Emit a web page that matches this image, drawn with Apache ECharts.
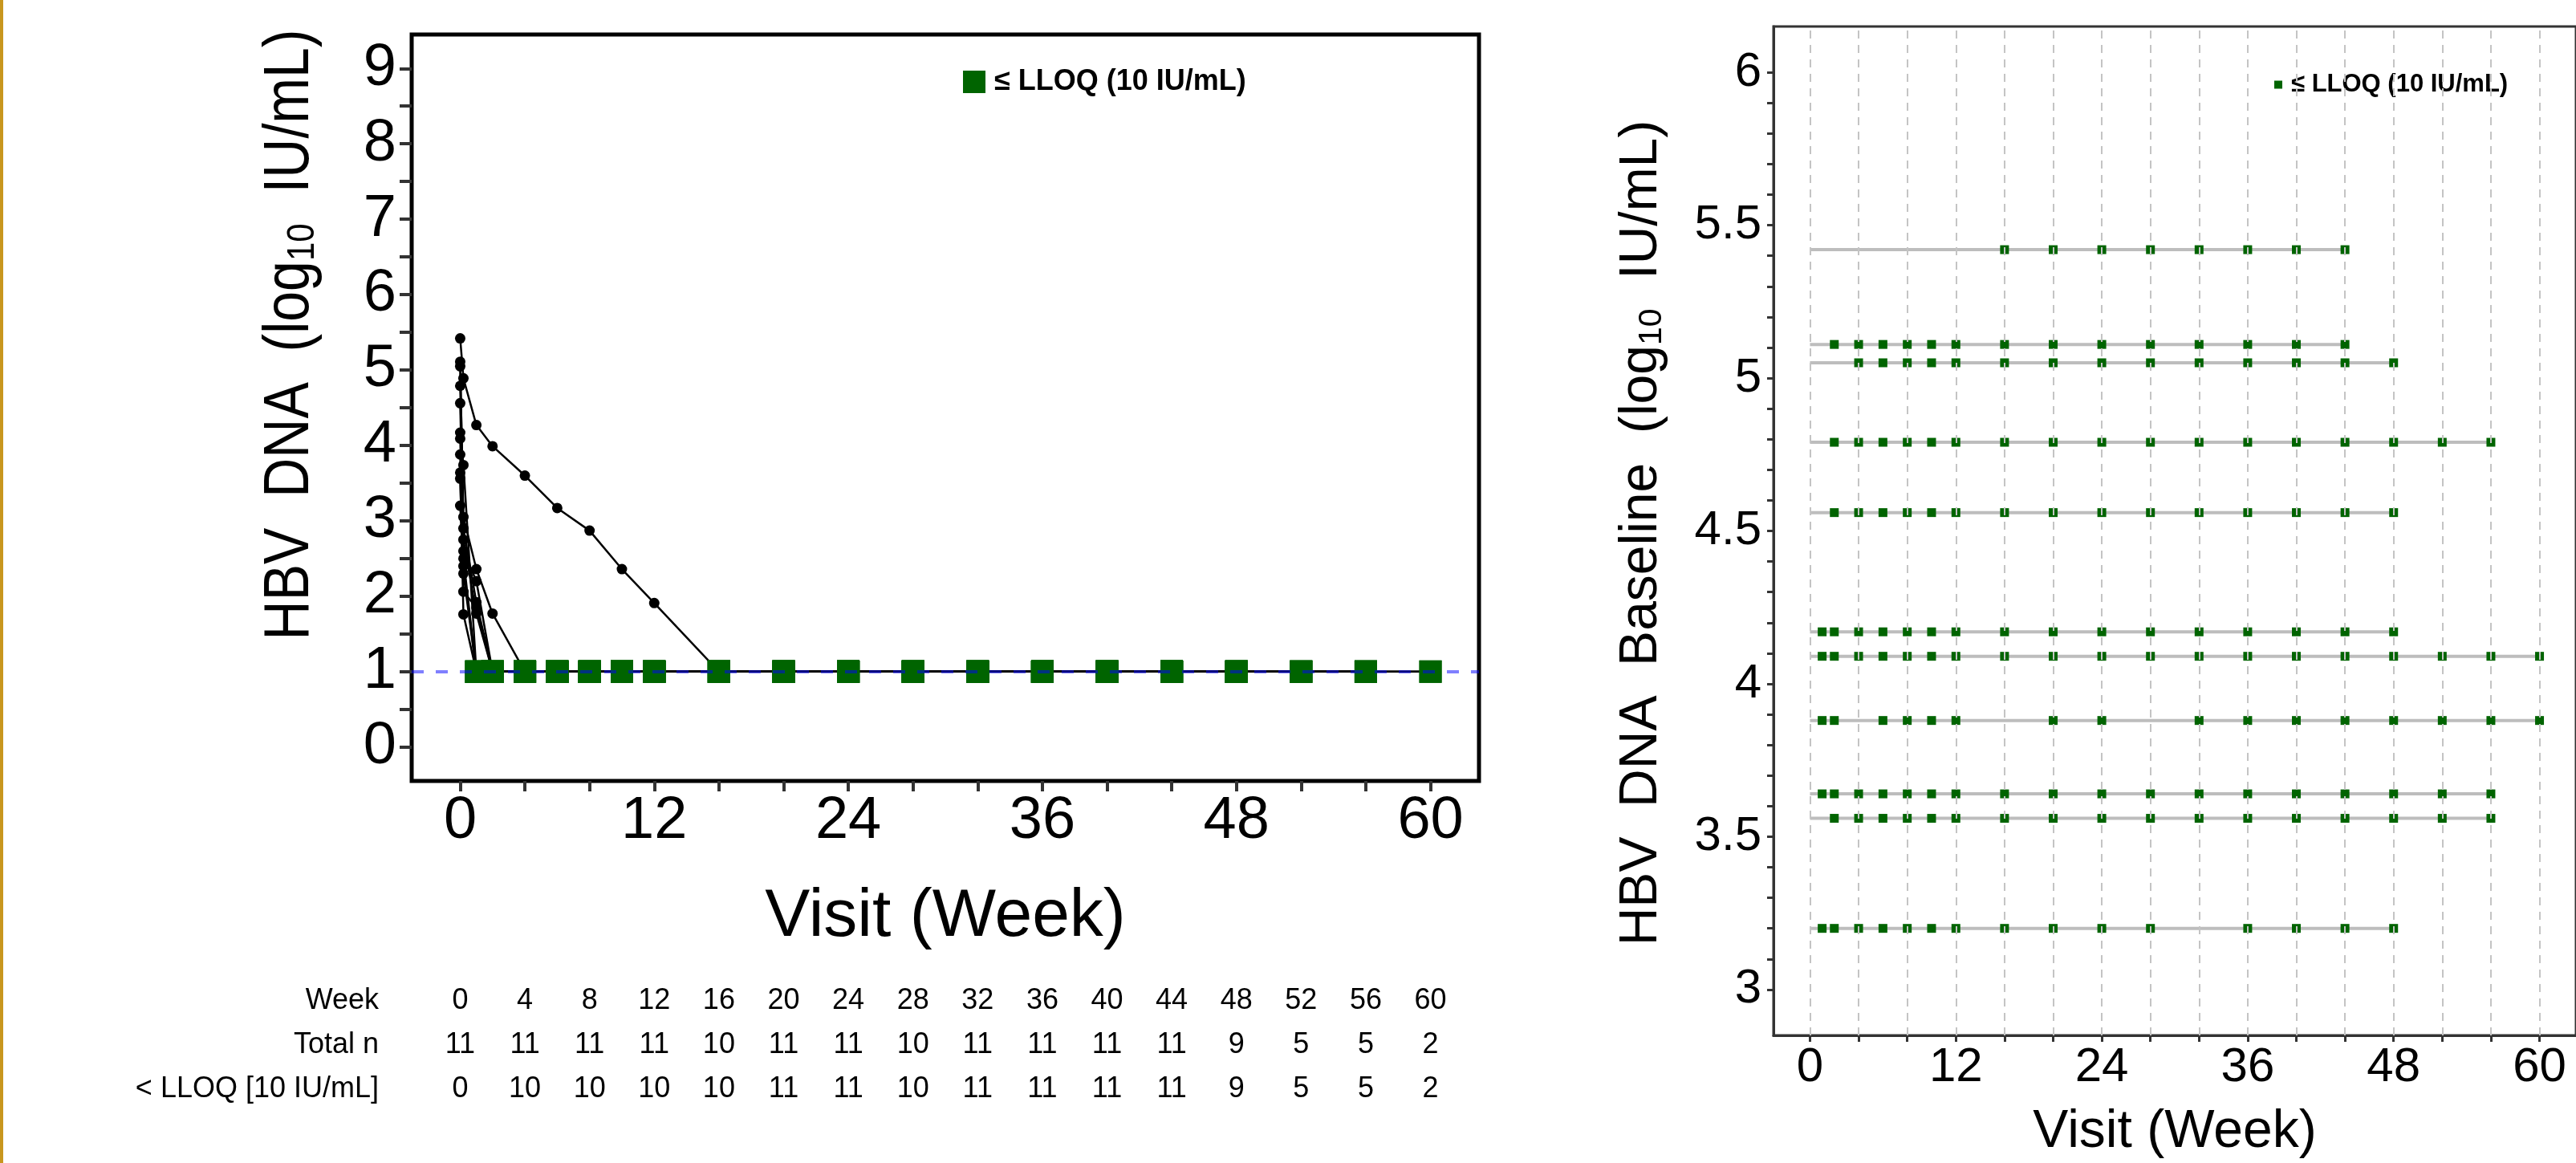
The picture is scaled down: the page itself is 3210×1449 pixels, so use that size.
<!DOCTYPE html>
<html>
<head>
<meta charset="utf-8">
<title>HBV DNA by visit</title>
<script src="https://cdn.jsdelivr.net/npm/echarts@6/dist/echarts.min.js"></script>
<style>
  html, body { margin: 0; padding: 0; background: #fff; }
  #chart { width: 3210px; height: 1449px; }
</style>
</head>
<body>
<div id="chart"></div>
<script>
// log10 of the lower limit of quantification (10 IU/mL)
const LLOQ = 1;
const L = LLOQ;
const LEG = '\u2264 LLOQ (10 IU/mL)';
const FONT = "'Liberation Sans', Arial, sans-serif";

// visit weeks (0.2 = early on-treatment draw)
const visitWeeks = [0, 0.2, 1, 2, 4, 6, 8, 10, 12, 16, 20, 24, 28, 32, 36, 40, 44, 48, 52, 56, 60];

// HBV DNA (log10 IU/mL) per subject at each visit, L = <= LLOQ, null = no visit
const subj01 = [5.42, 4.89, 4.27, 3.99, 3.60, 3.17, 2.87, 2.36, 1.91, L, L, L, L, L, L, L, L, null, null, null, null];
const subj02 = [5.11, 2.90, 1.92, L, L, L, L, L, L, L, L, L, L, L, L, L, L, null, null, null, null];
const subj03 = [5.05, 3.05, 2.36, 1.77, L, L, L, L, L, L, L, L, L, L, L, L, L, L, null, null, null];
const subj04 = [4.79, 2.75, 1.77, L, L, L, L, L, L, L, L, L, L, L, L, L, L, L, L, L, null];
const subj05 = [4.56, 2.60, 2.20, L, L, L, L, L, L, L, L, L, L, L, L, L, L, L, null, null, null];
const subj06 = [4.17, 3.74, L, L, L, L, L, L, L, L, L, L, L, L, L, L, L, L, null, null, null];
const subj07 = [4.09, 2.50, L, L, L, L, L, L, L, L, L, L, L, L, L, L, L, L, L, L, L];
const subj08 = [3.88, 2.30, L, L, null, L, L, L, L, null, L, L, null, L, L, L, L, L, L, L, L];
const subj09 = [3.64, 1.76, L, L, L, L, L, L, L, L, L, L, L, L, L, L, L, L, L, L, null];
const subj10 = [3.56, 2.06, 1.85, L, L, L, L, L, L, L, L, L, L, L, L, L, L, L, L, L, null];
const subj11 = [3.20, 2.40, L, L, L, L, L, L, L, L, L, L, L, null, L, L, L, L, null, null, null];
const subjects = [subj01, subj02, subj03, subj04, subj05, subj06, subj07, subj08, subj09, subj10, subj11];

// summary table under the left panel
const tableWeeks = [0, 4, 8, 12, 16, 20, 24, 28, 32, 36, 40, 44, 48, 52, 56, 60];
const totalN = [11, 11, 11, 11, 10, 11, 11, 10, 11, 11, 11, 11, 9, 5, 5, 2];
const belowLloqN = [0, 10, 10, 10, 10, 11, 11, 10, 11, 11, 11, 11, 9, 5, 5, 2];
const rowLabels = ['Week', 'Total n', '< LLOQ [10 IU/mL]'];

// axis ticks / labels
const leftXLabels = [0, 12, 24, 36, 48, 60];
const leftYLabels = [0, 1, 2, 3, 4, 5, 6, 7, 8, 9];
const leftYTicks = [0, 0.5, 1, 1.5, 2, 2.5, 3, 3.5, 4, 4.5, 5, 5.5, 6, 6.5, 7, 7.5, 8, 8.5, 9];
const rightYLabels = [3, 3.5, 4, 4.5, 5, 5.5, 6];
const rightYTicks = [3, 3.1, 3.2, 3.3, 3.4, 3.5, 3.6, 3.7, 3.8, 3.9, 4, 4.1, 4.2, 4.3, 4.4, 4.5,
  4.6, 4.7, 4.8, 4.9, 5, 5.1, 5.2, 5.3, 5.4, 5.5, 5.6, 5.7, 5.8, 5.9, 6];

let chart = echarts.init(document.getElementById('chart'));

let series = [];
let blackDots = [];
let greenLeft = [];
let greenRight = [];

subjects.forEach((s) => {
  let pts = [];
  visitWeeks.forEach((w, j) => {
    if (s[j] != null) pts.push([w, s[j]]);
  });
  // left panel: trajectory
  series.push({
    type: 'line', xAxisIndex: 0, yAxisIndex: 0, data: pts,
    symbol: 'none', lineStyle: { color: '#000', width: 2.5 }, z: 2, silent: true
  });
  pts.forEach(p => {
    if (p[1] <= LLOQ) greenLeft.push(p);
    else blackDots.push(p);
  });
  // right panel: line at baseline from week 0 to last visit
  let base = s[0];
  let last = pts[pts.length - 1][0];
  series.push({
    type: 'line', xAxisIndex: 1, yAxisIndex: 1, data: [[0, base], [last, base]],
    symbol: 'none', lineStyle: { color: '#bdbdbd', width: 4 }, z: 2, silent: true
  });
  pts.forEach(p => {
    if (p[1] <= LLOQ) greenRight.push([p[0], base]);
  });
});

series.push({
  type: 'scatter', xAxisIndex: 0, yAxisIndex: 0, data: blackDots,
  symbol: 'circle', symbolSize: 13, itemStyle: { color: '#000', opacity: 1, borderWidth: 0 }, z: 3, silent: true
});
series.push({
  name: LEG, type: 'scatter', xAxisIndex: 0, yAxisIndex: 0, data: greenLeft,
  symbol: 'rect', symbolSize: 28, itemStyle: { color: '#006400', opacity: 1, borderWidth: 0 }, z: 4, silent: true
});
// LLOQ reference line
series.push({
  type: 'line', xAxisIndex: 0, yAxisIndex: 0, data: [], z: 5,
  markLine: {
    silent: true, symbol: 'none', label: { show: false },
    lineStyle: { color: 'rgba(0,0,255,0.5)', type: [15, 15], width: 4 },
    data: [{ yAxis: LLOQ }]
  }
});
// right panel dashed visit grid
series.push({
  type: 'line', xAxisIndex: 1, yAxisIndex: 1, data: [], z: 1,
  markLine: {
    silent: true, symbol: 'none', label: { show: false },
    lineStyle: { color: '#c4c4c4', type: [10, 8], width: 2 },
    data: tableWeeks.map(w => ({ xAxis: w }))
  }
});
series.push({
  name: LEG, type: 'scatter', xAxisIndex: 1, yAxisIndex: 1, data: greenRight,
  symbol: 'rect', symbolSize: 11, itemStyle: { color: '#006400', opacity: 1, borderWidth: 0 }, z: 3, silent: true
});

let option = {
  animation: false,
  backgroundColor: '#fff',
  textStyle: { fontFamily: FONT, color: '#000' },
  legend: [
    {
      data: [LEG], left: 1200, top: 84, icon: 'rect', itemWidth: 28, itemHeight: 28,
      padding: 0, selectedMode: false,
      textStyle: { fontSize: 36, fontWeight: 'bold', color: '#000', fontFamily: FONT, padding: [0, 0, 0, 6] }
    },
    {
      data: [LEG], left: 2834, top: 90, icon: 'rect', itemWidth: 10, itemHeight: 10,
      padding: 0, selectedMode: false,
      textStyle: { fontSize: 31, fontWeight: 'bold', color: '#000', fontFamily: FONT, padding: [0, 0, 0, 6] }
    }
  ],
  grid: [
    { left: 513, top: 43, width: 1330, height: 930, show: true, borderColor: '#000', borderWidth: 5 },
    { left: 2210, top: 33, width: 1053, height: 1263, show: true, borderColor: '#333', borderWidth: 3 }
  ],
  xAxis: [
    {
      type: 'value', gridIndex: 0, min: -3, max: 63,
      name: 'Visit (Week)', nameLocation: 'middle', nameGap: 128,
      nameTextStyle: { fontSize: 84, color: '#000', fontFamily: FONT },
      axisLine: { show: false, onZero: false },
      axisTick: { show: true, customValues: tableWeeks, length: 13, lineStyle: { color: '#333', width: 4 } },
      axisLabel: { customValues: leftXLabels, fontSize: 74, color: '#000', margin: 14, fontFamily: FONT },
      splitLine: { show: false }
    },
    {
      type: 'value', gridIndex: 1, min: -3, max: 63,
      name: 'Visit (Week)', nameLocation: 'middle', nameGap: 88,
      nameTextStyle: { fontSize: 66, color: '#000', fontFamily: FONT },
      axisLine: { show: true, onZero: false, lineStyle: { color: '#333', width: 3 } },
      axisTick: { show: true, customValues: tableWeeks, length: 8, lineStyle: { color: '#333', width: 3 } },
      axisLabel: { customValues: leftXLabels, fontSize: 60, color: '#000', margin: 10, fontFamily: FONT },
      splitLine: { show: false }
    }
  ],
  yAxis: [
    {
      type: 'value', gridIndex: 0, min: -0.45, max: 9.45,
      axisLine: { show: false, onZero: false },
      axisTick: { show: true, customValues: leftYTicks, length: 15, lineStyle: { color: '#333', width: 4 } },
      axisLabel: { customValues: leftYLabels, fontSize: 74, color: '#000', margin: 19, fontFamily: FONT },
      splitLine: { show: false }
    },
    {
      type: 'value', gridIndex: 1, min: 2.85, max: 6.15,
      axisLine: { show: true, onZero: false, lineStyle: { color: '#333', width: 3 } },
      axisTick: { show: true, customValues: rightYTicks, length: 8, lineStyle: { color: '#333', width: 3 } },
      axisLabel: { customValues: rightYLabels, fontSize: 60, color: '#000', margin: 15, fontFamily: FONT },
      splitLine: { show: false }
    }
  ],
  series: series
};

chart.setOption(option);

// titles with subscript, the left edge stripe and the table
let graphics = [];
graphics.push({
  type: 'rect', shape: { x: 0, y: 0, width: 4, height: 1449 }, style: { fill: '#c8961e' }, silent: true
});
function yTitle(x, y, size, stretch, text) {
  return {
    type: 'text', x: x, y: y, rotation: Math.PI / 2, scaleY: stretch, silent: true,
    style: {
      text: '{n|' + text + '  (log}{s|10}{n|  IU/mL)}',
      align: 'center', verticalAlign: 'middle',
      rich: {
        n: { fontSize: size, fontFamily: FONT, fill: '#000', lineHeight: size },
        s: { fontSize: Math.round(size * 0.62), fontFamily: FONT, fill: '#000', lineHeight: Math.round(size * 0.4), verticalAlign: 'bottom' }
      }
    }
  };
}
graphics.push(yTitle(362, 417, 68, 1.16, 'HBV  DNA'));
graphics.push(yTitle(2046, 664, 66, 1.0, 'HBV  DNA  Baseline'));

let rowY = [1247, 1302, 1357];
let rows = [tableWeeks, totalN, belowLloqN];
rowLabels.forEach((lab, r) => {
  graphics.push({
    type: 'text', x: 472, y: rowY[r], silent: true,
    style: { text: lab, fontSize: 36, fontFamily: FONT, fill: '#000', align: 'right', verticalAlign: 'middle' }
  });
  rows[r].forEach((v, c) => {
    let px = chart.convertToPixel({ xAxisIndex: 0 }, tableWeeks[c]);
    graphics.push({
      type: 'text', x: px, y: rowY[r], silent: true,
      style: { text: String(v), fontSize: 36, fontFamily: FONT, fill: '#000', align: 'center', verticalAlign: 'middle' }
    });
  });
});

chart.setOption({ graphic: graphics });
</script>
</body>
</html>
